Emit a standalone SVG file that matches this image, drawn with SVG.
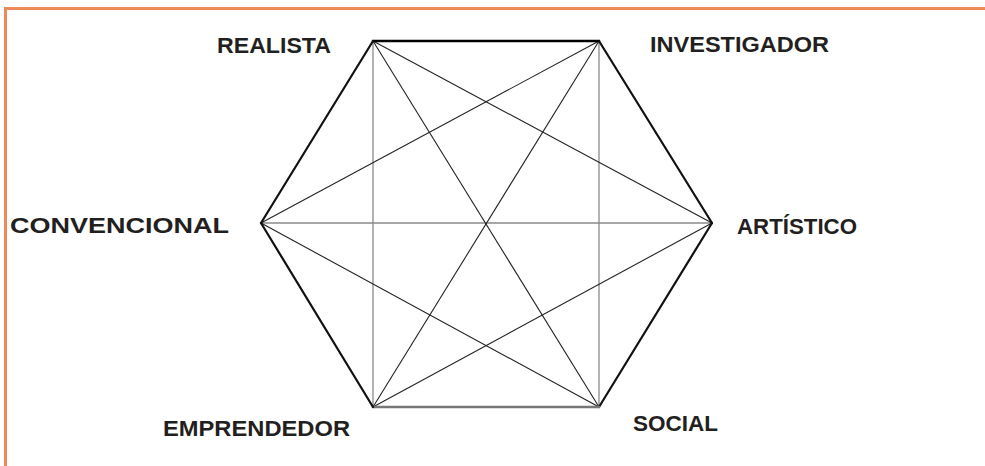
<svg xmlns="http://www.w3.org/2000/svg" width="985" height="466" viewBox="0 0 985 466">
<style>
.frame{stroke:#ee8a5a;stroke-width:3;fill:none}
.edge{stroke:#111;stroke-width:2.2;fill:none;stroke-linecap:round}
.diag{stroke:#222;stroke-width:1.1;fill:none}
.axis{stroke:#8a8a8a;stroke-width:1.3;fill:none}
.lbl{font-family:"Liberation Sans",Arial,sans-serif;font-weight:bold;font-size:22px;fill:#231f20}
</style>
<rect width="985" height="466" fill="#fff"/>
<g id="frame">
<path class="frame" d="M5.5 466 V8.5 H985"/>
</g>
<g id="connectors">
<line class="axis" x1="373" y1="41" x2="373" y2="407"/>
<line class="axis" x1="599" y1="41" x2="599" y2="407"/>
<line class="axis" x1="261" y1="223" x2="712" y2="223"/>
<line class="diag" x1="373" y1="41" x2="712" y2="223"/>
<line class="diag" x1="373" y1="41" x2="599" y2="407"/>
<line class="diag" x1="599" y1="41" x2="373" y2="407"/>
<line class="diag" x1="599" y1="41" x2="261" y2="223"/>
<line class="diag" x1="712" y1="223" x2="373" y2="407"/>
<line class="diag" x1="599" y1="407" x2="261" y2="223"/>
<line class="edge" x1="373" y1="41" x2="599" y2="41" style="stroke-width:2.6;stroke:#000"/>
<line class="edge" x1="599" y1="41" x2="712" y2="223"/>
<line class="edge" x1="712" y1="223" x2="599" y2="407"/>
<line class="edge" x1="599" y1="407" x2="373" y2="407" style="stroke:#777;stroke-width:2.6"/>
<line class="edge" x1="373" y1="407" x2="261" y2="223"/>
<line class="edge" x1="261" y1="223" x2="373" y2="41"/>
</g>
<g id="realista"><text class="lbl" x="217" y="53" textLength="114" lengthAdjust="spacingAndGlyphs">REALISTA</text></g>
<g id="investigador"><text class="lbl" x="650" y="52" textLength="179" lengthAdjust="spacingAndGlyphs">INVESTIGADOR</text></g>
<g id="artistico"><text class="lbl" x="737" y="234" textLength="120" lengthAdjust="spacingAndGlyphs">ARTÍSTICO</text></g>
<g id="convencional"><text class="lbl" x="10" y="233" textLength="219" lengthAdjust="spacingAndGlyphs">CONVENCIONAL</text></g>
<g id="emprendedor"><text class="lbl" x="163" y="436" textLength="187" lengthAdjust="spacingAndGlyphs">EMPRENDEDOR</text></g>
<g id="social"><text class="lbl" x="633" y="431" textLength="85" lengthAdjust="spacingAndGlyphs">SOCIAL</text></g>
</svg>
